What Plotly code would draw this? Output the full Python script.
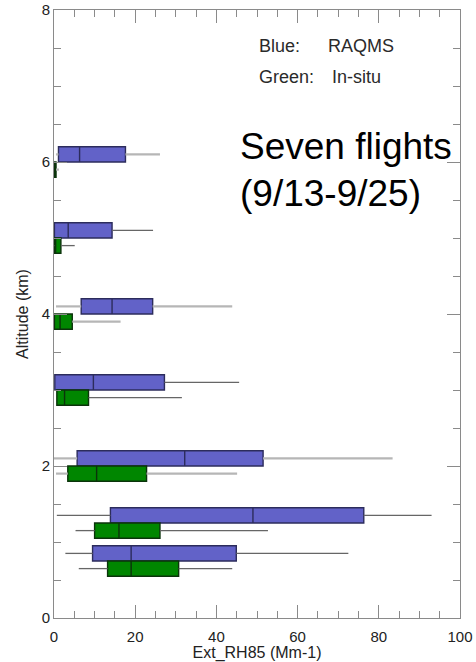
import plotly.graph_objects as go

# ---- data ----
blue_alt = [6.1, 5.1, 4.1, 3.1, 2.1, 1.35, 0.85]
blue_low = [0.5, 0.1, 0.5, 0.2, 0.0, 0.7, 2.8]
blue_q1 = [1.1, 0.1, 6.7, 0.2, 5.7, 13.9, 9.5]
blue_med = [6.3, 3.5, 14.3, 9.7, 32.2, 49.0, 19.0]
blue_q3 = [17.6, 14.3, 24.3, 27.2, 51.5, 76.3, 44.9]
blue_high = [26.1, 24.4, 43.9, 45.6, 83.4, 93.0, 72.5]

green_alt = [5.9, 4.9, 3.9, 2.9, 1.9, 1.15, 0.65]
green_low = [0.0, 0.0, 0.1, 0.7, 0.5, 5.3, 6.1]
green_q1 = [0.0, 0.1, 0.1, 0.7, 3.4, 10.0, 13.2]
green_med = [0.2, 0.4, 1.5, 2.6, 10.5, 16.0, 19.0]
green_q3 = [0.5, 1.7, 4.5, 8.5, 22.8, 26.1, 30.7]
green_high = [1.2, 5.1, 16.4, 31.5, 45.1, 52.7, 43.9]

x_ticks = [0, 20, 40, 60, 80, 100]
y_ticks = [0, 2, 4, 6, 8]

# whisker shading per box (style, not data)
blue_shade = ["light", "dark", "light", "dark", "light", "dark", "dark"]
green_shade = ["light", "dark", "light", "dark", "light", "dark", "dark"]

fig = go.Figure()

def whisker_traces(alt, low, q1, q3, high, shade):
    out = {"light": ([], []), "dark": ([], [])}
    for a, lo, b1, b3, hi, s in zip(alt, low, q1, q3, high, shade):
        xs, ys = out[s]
        if lo < b1:
            xs += [lo, b1, None]
            ys += [a, a, None]
        if hi > b3:
            xs += [b3, hi, None]
            ys += [a, a, None]
    return out

styles = {"light": dict(color="#b6b6b6", width=2.2),
          "dark": dict(color="#666666", width=1.3)}

for alt, low, q1, q3, high, shade in [
    (blue_alt, blue_low, blue_q1, blue_q3, blue_high, blue_shade),
    (green_alt, green_low, green_q1, green_q3, green_high, green_shade),
]:
    w = whisker_traces(alt, low, q1, q3, high, shade)
    for k, (xs, ys) in w.items():
        fig.add_trace(go.Scatter(x=xs, y=ys, mode="lines", line=styles[k],
                                 hoverinfo="skip", showlegend=False))

fig.add_trace(go.Box(
    orientation="h", y=blue_alt, q1=blue_q1, median=blue_med, q3=blue_q3,
    lowerfence=blue_q1, upperfence=blue_q3, width=0.2, whiskerwidth=0,
    fillcolor="#6262c8", line=dict(color="#2c2c5c", width=1.4),
    boxpoints=False, showlegend=False, name="RAQMS"))

fig.add_trace(go.Box(
    orientation="h", y=green_alt, q1=green_q1, median=green_med, q3=green_q3,
    lowerfence=green_q1, upperfence=green_q3, width=0.2, whiskerwidth=0,
    fillcolor="#008600", line=dict(color="#0b330b", width=1.4),
    boxpoints=False, showlegend=False, name="In-situ"))

font = "Liberation Sans, Arial, sans-serif"
ann = [
    dict(x=49.9, y=7.53, text="Blue:", size=18),
    dict(x=67.1, y=7.53, text="RAQMS", size=18),
    dict(x=49.9, y=7.12, text="Green:", size=18),
    dict(x=67.9, y=7.12, text="In-situ", size=18),
    dict(x=45.2, y=6.21, text="Seven flights", size=37, color="#000000"),
    dict(x=45.2, y=5.59, text="(9/13-9/25)", size=37, color="#000000"),
]
for a in ann:
    fig.add_annotation(x=a["x"], y=a["y"], xref="x", yref="y", text=a["text"],
                       showarrow=False, xanchor="left", yanchor="middle",
                       font=dict(family=font, size=a["size"],
                                 color=a.get("color", "#2a2a2a")))

axis_common = dict(showgrid=False, zeroline=False, showline=True,
                   linecolor="#8a8a8a", linewidth=1, mirror="allticks",
                   ticks="inside", tickcolor="#8a8a8a", tickwidth=1,
                   automargin=False,
                   tickfont=dict(family=font, size=15, color="#222222"))

fig.update_xaxes(range=[0, 100], tickvals=x_ticks, ticklen=13,
                 ticklabelstandoff=5,
                 minor=dict(dtick=5, ticks="inside", ticklen=7,
                            tickcolor="#8a8a8a", showgrid=False),
                 title=dict(text="Ext_RH85 (Mm-1)", standoff=5,
                            font=dict(family=font, size=16, color="#222222")),
                 **axis_common)
fig.update_yaxes(range=[0, 8], tickvals=y_ticks, ticklen=13,
                 minor=dict(dtick=0.5, ticks="inside", ticklen=7,
                            tickcolor="#8a8a8a", showgrid=False),
                 title=dict(text="Altitude (km)", standoff=9,
                            font=dict(family=font, size=16, color="#222222")),
                 **axis_common)

fig.update_layout(width=476, height=662,
                  margin=dict(l=54, r=16, t=10, b=44),
                  paper_bgcolor="white", plot_bgcolor="white",
                  showlegend=False)

fig.write_html("out.html")
